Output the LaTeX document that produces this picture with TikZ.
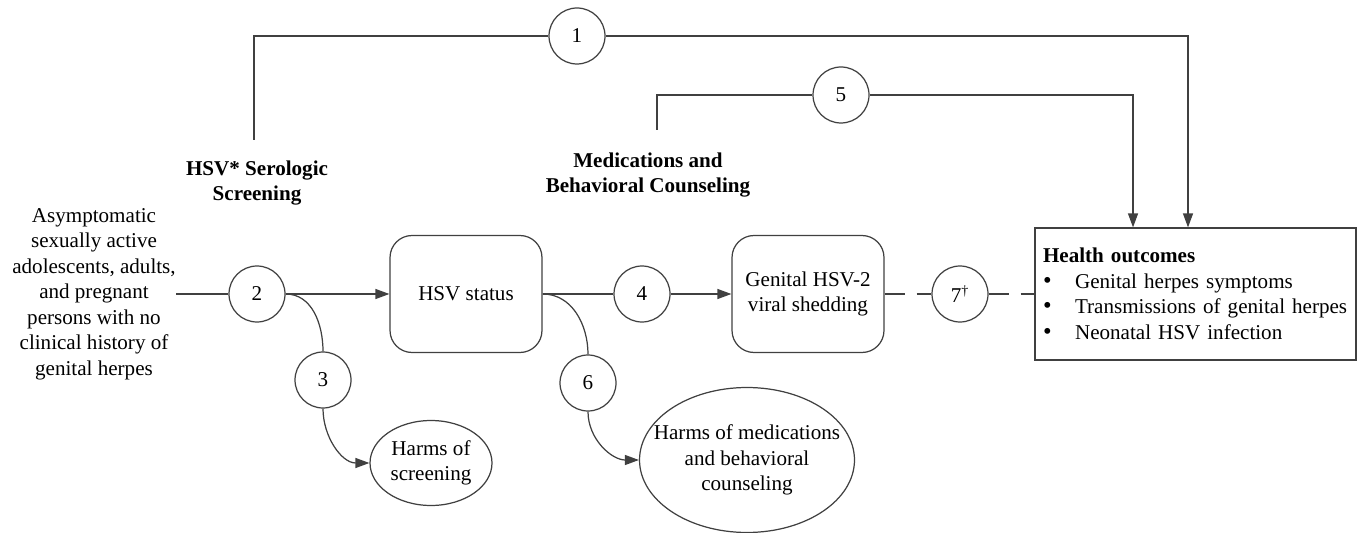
\documentclass[tikz,border=0pt]{standalone}
\usepackage{fontspec}
\setmainfont{Liberation Serif}
\usetikzlibrary{arrows.meta,shapes.geometric}

\definecolor{linec}{RGB}{64,64,64}

\newcommand{\bul}{\makebox[0.64cm][l]{\fontsize{14}{14}\selectfont\textbullet}}

\tikzset{
  every node/.style={font=\fontsize{12}{14.5}\selectfont},
  num/.style={circle, draw=linec, line width=0.7pt, minimum size=1.12cm, inner sep=0pt},
  stage/.style={draw=linec, line width=0.7pt, rounded corners=0.44cm, minimum width=3.04cm, minimum height=2.34cm, align=center},
  harm/.style={ellipse, draw=linec, line width=0.7pt, align=center, inner sep=0pt},
  heading/.style={align=center, font=\fontsize{12}{14.5}\selectfont\bfseries},
  link/.style={draw=linec, line width=0.7pt},
  arr/.style={link, -{Triangle[length=0.28cm,width=0.2cm]}},
  gap/.style={link, dash pattern=on 0.4cm off 0.24cm},
}

\begin{document}
\begin{tikzpicture}[x=0.02cm, y=-0.02cm]
	\useasboundingbox (0,0) rectangle (1365,533);
	
	% Key questions above the chain
	\node[num] (n1) at (577,36) {1};
	\node[num] (n5) at (841,95) {5};
	\node[heading] (screen) at (257,183) {HSV* Serologic\\Screening};
	\node[heading] (meds) at (648,175) {Medications and\\Behavioral Counseling};
	
	% Main chain
	\node[align=center, inner xsep=0pt] (pop) at (94,294) {Asymptomatic\\sexually active\\adolescents, adults,\\and pregnant\\persons with no\\clinical history of\\genital herpes};
	\node[num] (n2) at (257,294) {2};
	\node[stage] (status) at (466,294) {HSV status};
	\node[num] (n4) at (642,294) {4};
	\node[stage] (shed) at (808,294) {Genital HSV-2\\viral shedding};
	\node[num] (n7) at (960,294) {7\textsuperscript{\dag}};
	\node[draw=linec, line width=0.7pt, text width=6.1cm, inner xsep=0.16cm, minimum height=2.64cm, align=left] (health) at (1195.5,294)
		{\textbf{Health outcomes}\\
		 \bul Genital herpes symptoms\\
		 \bul Transmissions of genital herpes\\
		 \bul Neonatal HSV infection};
	
	% Harms
	\node[num] (n3) at (323,380) {3};
	\node[harm, minimum width=2.44cm, minimum height=1.7cm] (harmscr) at (431,463) {Harms of\\screening};
	\node[num] (n6) at (588,383) {6};
	\node[harm, inner xsep=-0.35cm, minimum width=4.3cm, minimum height=2.9cm] (harmmed) at (747,460) {Harms of medications\\and behavioral\\counseling};
	
	% Overarching arrows
	\coordinate (s1) at (254,140);
	\coordinate (s5) at (657,130);
	\draw[link] (s1) |- (n1);
	\draw[arr] (n1) -| ([xshift=-0.15cm]health.north);
	\draw[link] (s5) |- (n5);
	\draw[arr] (n5) -| ([xshift=-1.25cm]health.north);
	
	% Chain arrows
	\draw[link] (pop) -- (n2);
	\draw[arr] (n2) -- (status);
	\draw[link] (status) -- (n4);
	\draw[arr] (n4) -- (shed);
	\draw[gap] (shed) -- (n7);
	\draw[gap] (n7) -- (health);
	
	% Branches to harms
	\draw[link] (n2.east) to[out=0,in=90] (n3.north);
	\draw[arr] (n3.south) to[out=-90,in=180] (harmscr.west);
	\draw[link] (status.east) to[out=0,in=90] (n6.north);
	\draw[arr] (n6.south) to[out=-90,in=180] (harmmed.west);
	
\end{tikzpicture}
\end{document}
